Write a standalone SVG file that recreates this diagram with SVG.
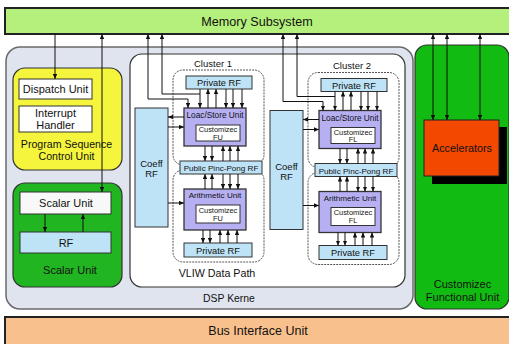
<svg xmlns="http://www.w3.org/2000/svg" width="509" height="344" viewBox="0 0 509 344">
  <style>
    text { font-family: "Liberation Sans", Arial, sans-serif; fill: #111; text-anchor: middle; }
    .bar { stroke: #222; stroke-width: 2; }
    .frame { stroke: #333; stroke-width: 1.2; }
    .box { stroke: #333; stroke-width: 1; }
    .rf { fill: #bfe3f6; stroke: #333; stroke-width: 1; }
    .unit { fill: #b6b0f3; stroke: #333; stroke-width: 1.3; }
    .white { fill: #ffffff; stroke: #333; stroke-width: 1; }
    .dash { fill: none; stroke: #555; stroke-width: 1; stroke-dasharray: 2 1; }
    .wire { fill: none; stroke: #111; stroke-width: 1; }
    .arr { marker-end: url(#ah); }
    .both { marker-start: url(#ah); marker-end: url(#ah); }
    .start { marker-start: url(#ah); }
  </style>
  <defs>
    <marker id="ah" viewBox="0 0 5 4.4" refX="5" refY="2.2" markerWidth="5" markerHeight="4.4" markerUnits="userSpaceOnUse" orient="auto-start-reverse">
      <path d="M0,0 L5,2.2 L0,4.4 z" fill="#111"/>
    </marker>
  </defs>

  <rect width="509" height="344" fill="#ffffff"/>

  <!-- Top bus: memory -->
  <g id="memory">
    <rect class="bar" x="5" y="8" width="506" height="26" fill="#b5f07c"/>
    <text x="257" y="25.5" font-size="12.6">Memory Subsystem</text>
  </g>

  <!-- Bottom bus: bus interface -->
  <g id="bus-interface">
    <rect class="bar" x="5" y="317" width="506" height="28" fill="#f8c08d"/>
    <text x="258" y="335" font-size="12.5">Bus Interface Unit</text>
  </g>

  <!-- DSP kernel container -->
  <g id="dsp-kernel">
    <rect x="6" y="47" width="407" height="262" rx="14" fill="#dfe4ee" stroke="#6a6a6a" stroke-width="1.5"/>
    <text x="229" y="302" font-size="10.4">DSP Kerne</text>
  </g>

  <!-- Program sequence control unit -->
  <g id="program-sequence">
    <rect class="frame" x="13" y="68" width="109" height="102" rx="12" fill="#f5f53d"/>
    <g id="dispatch-unit">
      <rect class="white" x="19" y="79" width="73" height="20"/>
      <text x="55.5" y="93" font-size="11">Dispatch Unit</text>
    </g>
    <g id="interrupt-handler">
      <rect class="white" x="19" y="106" width="73" height="26"/>
      <text x="55.5" y="116.5" font-size="11">Interrupt</text>
      <text x="55.5" y="129" font-size="11">Handler</text>
    </g>
    <text x="66.5" y="147.5" font-size="10.6" fill="#1a1a00">Program Sequence</text>
    <text x="66.5" y="160" font-size="10.6" fill="#1a1a00">Control Unit</text>
  </g>

  <!-- Scalar unit -->
  <g id="scalar">
    <rect class="frame" x="13" y="183" width="109" height="104" rx="12" fill="#22b522"/>
    <g id="scalar-unit">
      <rect x="20" y="192" width="91" height="22" fill="#f8f8f8" stroke="#333" stroke-width="1"/>
      <text x="66" y="206.5" font-size="11">Scalar Unit</text>
    </g>
    <g id="scalar-rf">
      <rect class="rf" x="20" y="232" width="91" height="21"/>
      <text x="66" y="246.5" font-size="11">RF</text>
    </g>
    <text x="70" y="274" font-size="11" fill="#0c3a0c">Scalar Unit</text>
  </g>

  <!-- VLIW data path -->
  <g id="vliw">
    <rect class="frame" x="130" y="54" width="275" height="233" rx="12" fill="#ffffff"/>
    <text x="217" y="277" font-size="10.7">VLIW Data Path</text>
  </g>

  <!-- Cluster 1 -->
  <g id="cluster1">
    <text x="213" y="67" font-size="9.5">Cluster 1</text>
    <rect class="dash" x="173" y="70" width="91" height="95" rx="10"/>
    <rect class="dash" x="173" y="170" width="91" height="92" rx="10"/>
    <g id="c1-private-rf-top">
      <rect class="rf" x="186" y="76" width="66" height="13"/>
      <text x="219" y="86" font-size="9.3">Private RF</text>
    </g>
    <g id="c1-load-store">
      <rect class="unit" x="184" y="108" width="62" height="38"/>
      <text x="215" y="118" font-size="8.3">Loac/Store Unit</text>
      <rect class="white" x="196" y="125" width="44" height="16"/>
      <text x="218" y="132" font-size="7.4">Customizec</text>
      <text x="218" y="139.5" font-size="7.4">FU</text>
    </g>
    <g id="c1-coeff-rf">
      <rect class="rf" x="135" y="108" width="33" height="119"/>
      <text x="151.5" y="167" font-size="9.5">Coeff</text>
      <text x="151.5" y="177" font-size="9.5">RF</text>
    </g>
    <g id="c1-ping-pong">
      <rect class="rf" x="180" y="161" width="82" height="13"/>
      <text x="221" y="171" font-size="8.1">Public Pinc-Pong RF</text>
    </g>
    <g id="c1-arith">
      <rect class="unit" x="184" y="189" width="62" height="41"/>
      <text x="215" y="198" font-size="8.1">Arithmetic Unit</text>
      <rect class="white" x="196" y="205" width="44" height="18"/>
      <text x="218" y="212.5" font-size="7.4">Customizec</text>
      <text x="218" y="220.5" font-size="7.4">FU</text>
    </g>
    <g id="c1-private-rf-bottom">
      <rect class="rf" x="184" y="243" width="68" height="14"/>
      <text x="218" y="253.5" font-size="9.3">Private RF</text>
    </g>
  </g>

  <!-- Cluster 2 (same layout, shifted) -->
  <g id="cluster2" transform="translate(135,2.5)">
    <text x="217" y="66.5" font-size="9.5">Cluster 2</text>
    <rect class="dash" x="173" y="70" width="91" height="95" rx="10"/>
    <rect class="dash" x="173" y="170" width="91" height="92" rx="10"/>
    <g id="c2-private-rf-top">
      <rect class="rf" x="186" y="76" width="66" height="13"/>
      <text x="219" y="86" font-size="9.3">Private RF</text>
    </g>
    <g id="c2-load-store">
      <rect class="unit" x="184" y="108" width="62" height="38"/>
      <text x="215" y="118" font-size="8.3">Loac/Store Unit</text>
      <rect class="white" x="196" y="125" width="44" height="16"/>
      <text x="218" y="132" font-size="7.4">Customizec</text>
      <text x="218" y="139.5" font-size="7.4">FL</text>
    </g>
    <g id="c2-coeff-rf">
      <rect class="rf" x="135" y="108" width="33" height="119"/>
      <text x="151.5" y="167" font-size="9.5">Coeff</text>
      <text x="151.5" y="177" font-size="9.5">RF</text>
    </g>
    <g id="c2-ping-pong">
      <rect class="rf" x="180" y="161" width="82" height="13"/>
      <text x="221" y="171" font-size="8.1">Public Pinc-Pong RF</text>
    </g>
    <g id="c2-arith">
      <rect class="unit" x="184" y="189" width="62" height="41"/>
      <text x="215" y="198" font-size="8.1">Arithmetic Unit</text>
      <rect class="white" x="196" y="205" width="44" height="18"/>
      <text x="218" y="212.5" font-size="7.4">Customizec</text>
      <text x="218" y="220.5" font-size="7.4">FL</text>
    </g>
    <g id="c2-private-rf-bottom">
      <rect class="rf" x="184" y="243" width="68" height="14"/>
      <text x="218" y="253.5" font-size="9.3">Private RF</text>
    </g>
  </g>

  <!-- Customized functional unit with accelerators -->
  <g id="custom-fu">
    <rect class="frame" x="415" y="45" width="94" height="264" rx="12" fill="#12bb12"/>
    <text x="462.5" y="288" font-size="11" fill="#0c2a0c">Customizec</text>
    <text x="462.5" y="301" font-size="11" fill="#0c2a0c">Functional Unit</text>
  </g>
  <g id="accelerators">
    <rect x="432" y="127" width="75" height="57" fill="#000"/>
    <rect x="424" y="120" width="75" height="56" fill="#f34800" stroke="#222" stroke-width="1"/>
    <text x="462" y="152" font-size="10.8">Accelerators</text>
  </g>

  <!-- Connectors -->
  <g id="connectors">
    <!-- memory to control / scalar -->
    <path class="wire arr" d="M55,34 V79"/>
    <path class="wire both" d="M102,34 V192"/>
    <!-- scalar unit and its register file -->
    <path class="wire arr" d="M45,214 V232"/>
    <path class="wire arr" d="M83,232 V214"/>
    <!-- memory to accelerators -->
    <path class="wire both" d="M433,34 V120"/>
    <path class="wire both" d="M447,34 V120"/>
    <path class="wire both" d="M480,34 V120"/>
    <!-- memory to cluster 1 load/store -->
    <path class="wire both" d="M148,34 V99 H188 V108"/>
    <path class="wire start" d="M162,34 V94 H200"/>
    <!-- memory to cluster 2 load/store -->
    <path class="wire both" d="M283,34 V101.5 H323 V110.5"/>
    <path class="wire start" d="M297,34 V96.5 H335"/>
  </g>

  <g id="connectors-cluster1">
    <path class="wire arr" d="M200,89 V108"/>
    <path class="wire arr" d="M208,108 V89"/>
    <path class="wire arr" d="M216,108 V89"/>
    <path class="wire arr" d="M226,89 V108"/>
    <path class="wire arr" d="M233,89 V108"/>
    <path class="wire arr" d="M242,89 V108"/>
    <path class="wire arr" d="M184,117 H168"/>
    <path class="wire arr" d="M168,127 H184"/>
    <path class="wire arr" d="M168,203 H184"/>
    <path class="wire arr" d="M205,146 V161"/>
    <path class="wire arr" d="M212,146 V161"/>
    <path class="wire arr" d="M223,161 V146"/>
    <path class="wire arr" d="M230,161 V146"/>
    <path class="wire arr" d="M238,161 V146"/>
    <path class="wire arr" d="M205,189 V174"/>
    <path class="wire arr" d="M212,189 V174"/>
    <path class="wire arr" d="M223,174 V189"/>
    <path class="wire arr" d="M230,174 V189"/>
    <path class="wire arr" d="M238,174 V189"/>
    <path class="wire arr" d="M203,230 V243"/>
    <path class="wire arr" d="M210,230 V243"/>
    <path class="wire arr" d="M220,243 V230"/>
    <path class="wire arr" d="M228,243 V230"/>
    <path class="wire arr" d="M237,243 V230"/>
  </g>

  <g id="connectors-cluster2" transform="translate(135,2.5)">
    <path class="wire arr" d="M200,89 V108"/>
    <path class="wire arr" d="M208,108 V89"/>
    <path class="wire arr" d="M216,108 V89"/>
    <path class="wire arr" d="M226,89 V108"/>
    <path class="wire arr" d="M233,89 V108"/>
    <path class="wire arr" d="M242,89 V108"/>
    <path class="wire arr" d="M184,117 H168"/>
    <path class="wire arr" d="M168,127 H184"/>
    <path class="wire arr" d="M168,203 H184"/>
    <path class="wire arr" d="M205,146 V161"/>
    <path class="wire arr" d="M212,146 V161"/>
    <path class="wire arr" d="M223,161 V146"/>
    <path class="wire arr" d="M230,161 V146"/>
    <path class="wire arr" d="M238,161 V146"/>
    <path class="wire arr" d="M205,189 V174"/>
    <path class="wire arr" d="M212,189 V174"/>
    <path class="wire arr" d="M223,174 V189"/>
    <path class="wire arr" d="M230,174 V189"/>
    <path class="wire arr" d="M238,174 V189"/>
    <path class="wire arr" d="M203,230 V243"/>
    <path class="wire arr" d="M210,230 V243"/>
    <path class="wire arr" d="M220,243 V230"/>
    <path class="wire arr" d="M228,243 V230"/>
    <path class="wire arr" d="M237,243 V230"/>
  </g>
</svg>
